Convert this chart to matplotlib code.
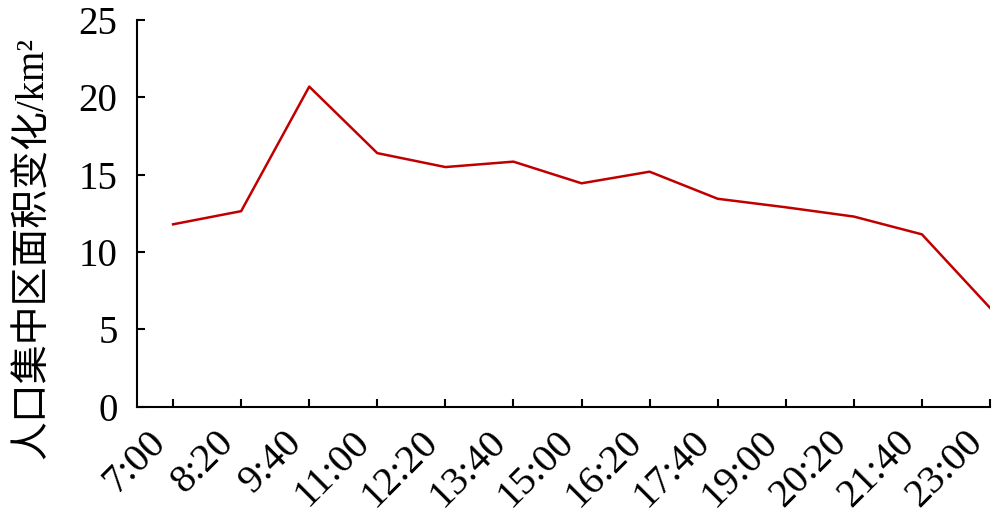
import matplotlib
matplotlib.use("Agg")
import matplotlib.pyplot as plt

times = ["7:00", "8:20", "9:40", "11:00", "12:20", "13:40", "15:00",
         "16:20", "17:40", "19:00", "20:20", "21:40", "23:00"]
area = [11.8, 12.65, 20.7, 16.4, 15.5, 15.85, 14.45,
        15.2, 13.45, 12.9, 12.3, 11.15, 6.4]

plt.rcParams['font.family'] = ['Liberation Serif', 'Noto Sans CJK SC']

fig = plt.figure(figsize=(10, 5.15), dpi=100)
ax = fig.add_axes([0.137, 0.21, 0.853, 0.751])

x = list(range(len(times)))
ax.plot(x, area, color="#C00000", lw=1.8)

ax.set_xlim(-0.53, 12)
ax.set_ylim(0, 25)
ax.set_yticks([0, 5, 10, 15, 20, 25])
ax.set_xticks(x)
ax.set_xticklabels(times, rotation=45, ha="right")
ax.tick_params(axis="both", direction="in", length=6, width=1.5, labelsize=28)
ax.tick_params(axis="x", pad=12, labelsize=29)
ax.tick_params(axis="y", pad=14)

for s in ["top", "right"]:
    ax.spines[s].set_visible(False)
for s in ["left", "bottom"]:
    ax.spines[s].set_linewidth(1.5)

ax.set_ylabel("人口集中区面积变化/km²", fontsize=28)
ax.yaxis.set_label_coords(-0.100, 0.41)

fig.savefig("out.png", dpi=100)
